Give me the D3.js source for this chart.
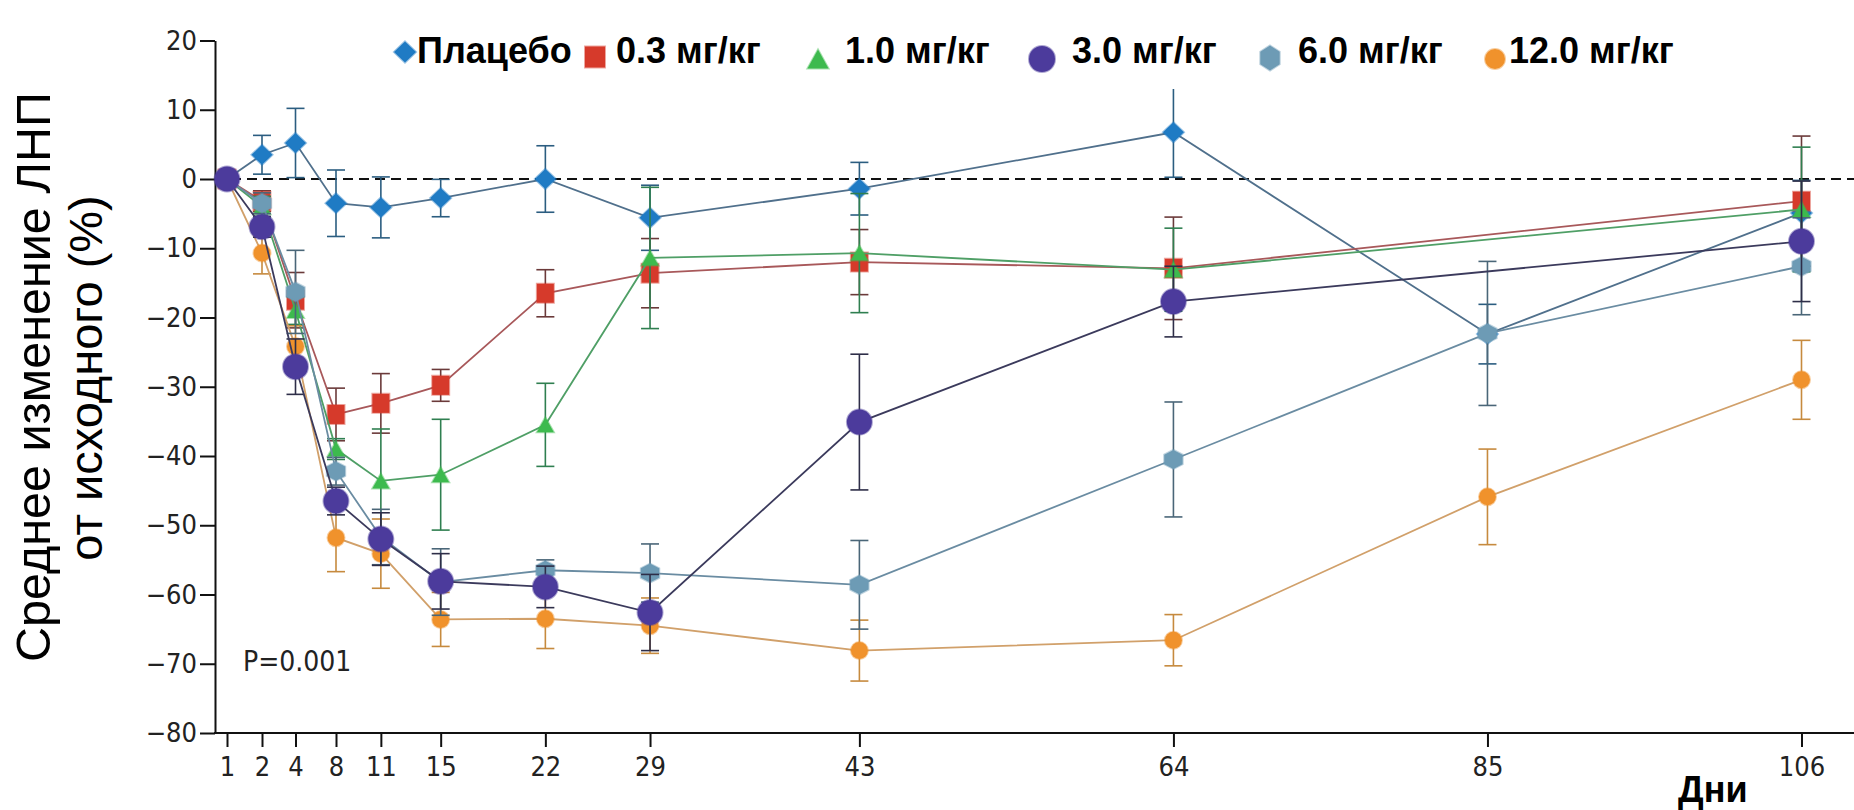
<!DOCTYPE html>
<html>
<head>
<meta charset="utf-8">
<script src="https://cdn.jsdelivr.net/npm/d3@7"></script>
<style>
  body { margin: 0; background: #fff; }
  .tick text { font-family: "DejaVu Sans Condensed", "DejaVu Sans", sans-serif; font-stretch: condensed; }
</style>
</head>
<body>
<div id="chart"></div>
<script>
// data (mean % change of LDL, +/- error)
const days = [1, 2, 4, 8, 11, 15, 22, 29, 43, 64, 85, 106];
const yTicks = [20, 10, 0, -10, -20, -30, -40, -50, -60, -70, -80];
const seriesNames = ["Плацебо", "0.3 мг/кг", "1.0 мг/кг", "3.0 мг/кг", "6.0 мг/кг", "12.0 мг/кг"];

const placeboMean = [0, 3.5, 5.2, -3.5, -4.1, -2.75, 0, -5.6, -1.4, 6.75, -22.4, -4.9];
const placeboErr  = [0, 2.8, 5.0, 4.8, 4.4, 2.7, 4.8, 4.7, 3.8, 6.5, 4.3, 4.7];

const dose03Mean = [0, -3.2, -17.5, -34.0, -32.4, -29.8, -16.5, -13.6, -12.0, -12.9, null, -3.2];
const dose03Err  = [0, 1.5, 4.0, 3.8, 4.3, 2.3, 3.4, 5.0, 4.7, 7.4, null, 9.4];

const dose10Mean = [0, -4.0, -19.0, -39.0, -43.6, -42.7, -35.5, -11.4, -10.7, -13.1, null, -4.4];
const dose10Err  = [0, 1.5, 2.0, 1.5, 7.5, 8.0, 6.0, 10.2, 8.6, 6.0, null, 9.0];

const dose30Mean = [0, -6.9, -27.1, -46.5, -52.0, -58.1, -58.9, -62.6, -35.1, -17.7, null, -9.0];
const dose30Err  = [0, 1.5, 4.0, 2.0, 3.8, 4.0, 3.0, 5.5, 9.8, 5.1, null, 8.7];

const dose60Mean = [0, -3.5, -16.3, -42.2, -51.7, -58.2, -56.5, -56.9, -58.6, -40.5, -22.3, -12.6];
const dose60Err  = [0, 1.5, 6.0, 2.0, 4.0, 4.8, 1.5, 4.2, 6.4, 8.3, 10.4, 7.0];

const dose120Mean = [0, -10.7, -24.2, -51.8, -54.1, -63.6, -63.5, -64.5, -68.1, -66.6, -45.9, -29.0];
const dose120Err  = [0, 3.0, 3.0, 4.9, 5.0, 3.9, 4.3, 4.0, 4.4, 3.7, 6.9, 5.7];

const pValueText = "P=0.001";

// styles
const styles = [
  { fill: "#1f7bc4", line: "#50708c", err: "#2b5d80", shape: "diamond",  w: 21, h: 20, lw: 22, lh: 21 },
  { fill: "#d63a2b", line: "#a8585a", err: "#6b3a3a", shape: "square",   w: 17, h: 19, lw: 20, lh: 21 },
  { fill: "#3dba4e", line: "#4f9f66", err: "#2f7f50", shape: "triangle", w: 17, h: 15, lw: 21, lh: 19 },
  { fill: "#4c3b9c", line: "#3b3a5c", err: "#2e2e48", shape: "circle",   w: 25, h: 25, lw: 26, lh: 25 },
  { fill: "#6d9bb5", line: "#6a8ca2", err: "#4a6678", shape: "hexagon",  w: 19, h: 19, lw: 20, lh: 25 },
  { fill: "#f0922c", line: "#d1a06a", err: "#c68a3e", shape: "circle",   w: 17, h: 17, lw: 20, lh: 22 }
];
const means = [placeboMean, dose03Mean, dose10Mean, dose30Mean, dose60Mean, dose120Mean];
const errs = [placeboErr, dose03Err, dose10Err, dose30Err, dose60Err, dose120Err];
const drawOrder = [0, 1, 2, 5, 4, 3];

const width = 1854, height = 810;

const svg = d3.select("#chart").append("svg")
    .attr("width", width)
    .attr("height", height);

// x: early days spread out, linear from day 8 on
const x = d3.scaleLinear()
    .domain([1, 2, 4, 8, 106])
    .range([227, 262, 295.5, 336, 1801.5]);
const y = d3.scaleLinear()
    .domain([-80, 20])
    .range([733, 40.5]);

const axisLeftX = 215;

// y axis
svg.append("g")
    .attr("transform", `translate(${axisLeftX},0)`)
    .call(d3.axisLeft(y).tickValues(yTicks).tickSize(15).tickSizeOuter(0).tickPadding(3))
    .call(g => g.selectAll("path, line").attr("stroke", "#111").attr("stroke-width", 2))
    .call(g => g.selectAll("text").attr("font-size", 27).attr("fill", "#222"));

// x axis
svg.append("g")
    .attr("transform", `translate(0,${y(-80)})`)
    .call(d3.axisBottom(x).tickValues(days).tickSize(14).tickPadding(10))
    .call(g => g.select(".domain").remove())
    .call(g => g.selectAll("line").attr("stroke", "#111").attr("stroke-width", 2))
    .call(g => g.selectAll("text").attr("font-size", 27).attr("fill", "#222"));

svg.append("line")
    .attr("x1", axisLeftX - 1).attr("x2", width)
    .attr("y1", y(-80)).attr("y2", y(-80))
    .attr("stroke", "#111").attr("stroke-width", 2);

// zero reference line
svg.append("line")
    .attr("x1", axisLeftX).attr("x2", width)
    .attr("y1", y(0)).attr("y2", y(0))
    .attr("stroke", "#111").attr("stroke-width", 2)
    .attr("stroke-dasharray", "10,6");

function markerPath(shape, w, h) {
  const p = d3.path();
  const a = w / 2, b = h / 2;
  if (shape === "circle") {
    p.moveTo(a, 0);
    p.arc(0, 0, a, 0, 2 * Math.PI);
  } else if (shape === "diamond") {
    p.moveTo(0, -b); p.lineTo(a, 0); p.lineTo(0, b); p.lineTo(-a, 0); p.closePath();
  } else if (shape === "square") {
    p.rect(-a, -b, w, h);
  } else if (shape === "triangle") {
    p.moveTo(0, -b); p.lineTo(a, b); p.lineTo(-a, b); p.closePath();
  } else if (shape === "hexagon") {
    for (let k = 0; k < 6; k++) {
      const ang = (-90 + 60 * k) * Math.PI / 180;
      const px = a * Math.cos(ang) * 1.12, py = b * Math.sin(ang);
      if (k === 0) p.moveTo(px, py); else p.lineTo(px, py);
    }
    p.closePath();
  }
  return p.toString();
}

const line = d3.line()
    .x(d => x(d.day))
    .y(d => y(d.v));

const plot = svg.append("g");

drawOrder.forEach(i => {
  const st = styles[i];
  const pts = days.map((d, j) => ({ day: d, v: means[i][j], e: errs[i][j] }))
      .filter(d => d.v != null);
  const g = plot.append("g");

  // error bars
  const eb = g.selectAll(".eb")
      .data(pts.filter(d => d.e > 0))
      .join("g")
      .attr("stroke", st.err)
      .attr("stroke-width", 1.6);
  eb.append("line")
      .attr("x1", d => x(d.day)).attr("x2", d => x(d.day))
      .attr("y1", d => y(d.v + d.e)).attr("y2", d => y(d.v - d.e));
  eb.append("line")
      .attr("x1", d => x(d.day) - 9).attr("x2", d => x(d.day) + 9)
      .attr("y1", d => y(d.v + d.e)).attr("y2", d => y(d.v + d.e));
  eb.append("line")
      .attr("x1", d => x(d.day) - 9).attr("x2", d => x(d.day) + 9)
      .attr("y1", d => y(d.v - d.e)).attr("y2", d => y(d.v - d.e));

  g.append("path")
      .datum(pts)
      .attr("fill", "none")
      .attr("stroke", st.line)
      .attr("stroke-width", 1.8)
      .attr("d", line);

  g.selectAll(".mk")
      .data(pts)
      .join("path")
      .attr("transform", d => `translate(${x(d.day)},${y(d.v)})`)
      .attr("d", markerPath(st.shape, st.w, st.h))
      .attr("fill", st.fill)
      .attr("stroke", st.fill)
      .attr("stroke-opacity", 0.45)
      .attr("stroke-width", 2);
});

// legend on a white band
svg.append("rect")
    .attr("x", 392).attr("y", 0)
    .attr("width", 1300).attr("height", 89)
    .attr("fill", "#fff");

const legendMarkX = [405, 595, 818, 1042, 1270, 1495];
const legendTextX = [417, 616, 845, 1072, 1298, 1509];
const legendMarkY = [52, 57, 59, 59, 58, 59];
const legend = svg.append("g");
seriesNames.forEach((name, i) => {
  const st = styles[i];
  legend.append("path")
      .attr("transform", `translate(${legendMarkX[i]},${legendMarkY[i]})`)
      .attr("d", markerPath(st.shape, st.lw, st.lh))
      .attr("fill", st.fill)
      .attr("stroke", st.fill)
      .attr("stroke-opacity", 0.45)
      .attr("stroke-width", 2);
  legend.append("text")
      .attr("x", legendTextX[i])
      .attr("y", 63)
      .attr("font-family", "'Liberation Sans', Arial, sans-serif")
      .attr("font-weight", "bold")
      .attr("font-size", 36)
      .attr("fill", "#000")
      .text(name);
});

// p value
svg.append("text")
    .attr("x", 243).attr("y", 671)
    .attr("font-family", "'DejaVu Sans Condensed', 'DejaVu Sans', sans-serif")
    .attr("font-stretch", "condensed")
    .attr("font-size", 28)
    .attr("fill", "#222")
    .text(pValueText);

// y axis title, two rotated lines
const yTitle = svg.append("g")
    .attr("font-family", "'Liberation Sans', Arial, sans-serif")
    .attr("fill", "#000")
    .attr("text-anchor", "middle");
yTitle.append("text")
    .attr("transform", "translate(50,377) rotate(-90)")
    .attr("font-size", 48.5)
    .text("Среднее изменение ЛНП");
yTitle.append("text")
    .attr("transform", "translate(102,378) rotate(-90)")
    .attr("font-size", 47)
    .text("от исходного (%)");

svg.append("text")
    .attr("x", 1678).attr("y", 802)
    .attr("font-family", "'Liberation Sans', Arial, sans-serif")
    .attr("font-weight", "bold")
    .attr("font-size", 36)
    .attr("fill", "#000")
    .text("Дни");
</script>
</body>
</html>
